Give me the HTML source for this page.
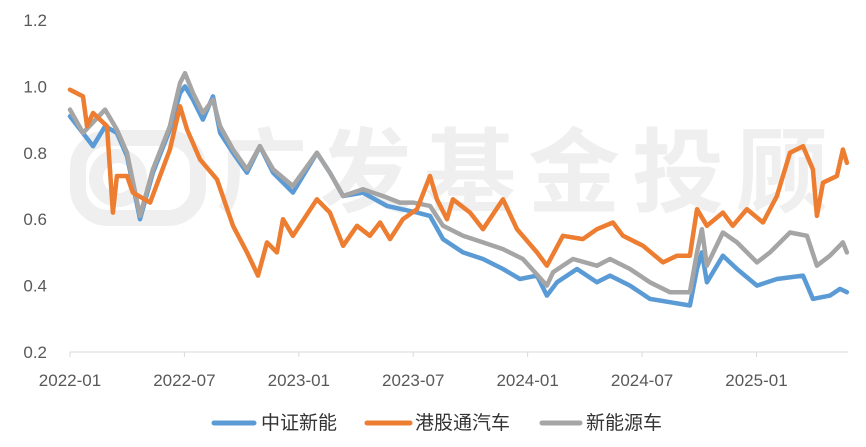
<!DOCTYPE html>
<html><head><meta charset="utf-8">
<style>
html,body{margin:0;padding:0;background:#fff;}
svg{display:block;font-family:"Liberation Sans","Noto Sans CJK SC",sans-serif;}
</style></head>
<body>
<svg id="chart" width="866" height="447" viewBox="0 0 866 447">
  <g fill="#efefef">
    <rect x="78" y="138" width="120" height="80" rx="30" fill="none" stroke="#efefef" stroke-width="16"/>
    <circle cx="118" cy="178" r="22" fill="none" stroke="#efefef" stroke-width="14"/>
    <text x="528" y="205" font-size="92" font-weight="bold" text-anchor="middle" letter-spacing="12" font-family="'Noto Sans CJK SC',sans-serif">广发基金投顾</text>
  </g>
  <g id="yaxis"></g>
  <g id="xaxis"></g>
  <g id="series"></g>
  <g font-size="19" fill="#333333">
    <g>
      <line x1="214" y1="423" x2="254" y2="423" stroke="#5b9bd5" stroke-width="5" stroke-linecap="round"/>
      <text x="261" y="429">中证新能</text>
    </g>
    <g>
      <line x1="367" y1="423" x2="410" y2="423" stroke="#ed7d31" stroke-width="5" stroke-linecap="round"/>
      <text x="415" y="429">港股通汽车</text>
    </g>
    <g>
      <line x1="542" y1="423" x2="580" y2="423" stroke="#a5a5a5" stroke-width="5" stroke-linecap="round"/>
      <text x="586" y="429">新能源车</text>
    </g>
  </g>
</svg>
<script>
const yTicks = [0.2, 0.4, 0.6, 0.8, 1.0, 1.2];
const yTickLabels = ["0.2", "0.4", "0.6", "0.8", "1.0", "1.2"];
const xTicks = [0, 6, 12, 18, 24, 30, 36];
const xTickLabels = ["2022-01", "2022-07", "2023-01", "2023-07", "2024-01", "2024-07", "2025-01"];

const blueT = [0,1.21,1.84,2.46,2.99,3.67,4.35,5.24,5.77,6.03,6.45,6.97,7.50,7.87,8.55,9.28,9.96,10.65,11.69,12.95,13.63,14.32,15.36,16.62,18.20,18.88,19.56,20.61,21.66,22.71,23.60,24.49,25.01,25.54,26.59,27.63,28.32,29.37,30.41,31.46,32.51,32.88,33.14,33.40,34.24,34.98,36.03,37.07,38.44,38.96,39.85,40.38,40.74];
const blueV = [.91,.82,.88,.86,.79,.60,.74,.87,.98,1.0,.96,.90,.97,.86,.80,.74,.82,.74,.68,.80,.74,.67,.68,.64,.62,.61,.54,.50,.48,.45,.42,.43,.37,.41,.45,.41,.43,.40,.36,.35,.34,.45,.50,.41,.49,.45,.40,.42,.43,.36,.37,.39,.38];

const grayT = [0,.68,1.84,2.46,2.99,3.67,4.35,5.24,5.77,6.03,6.45,6.97,7.50,7.87,8.55,9.28,9.96,10.65,11.69,12.95,13.63,14.32,15.36,16.41,17.30,17.99,18.88,19.56,20.61,21.66,22.71,23.75,25.01,25.33,26.38,27.63,28.32,29.37,30.41,31.46,32.51,32.88,33.14,33.40,34.24,34.98,36.03,36.71,37.76,38.65,39.17,39.85,40.53,40.74];
const grayV = [.93,.86,.93,.87,.80,.61,.75,.88,1.01,1.04,.98,.92,.96,.88,.81,.75,.82,.75,.70,.80,.74,.67,.69,.67,.65,.65,.64,.58,.55,.53,.51,.48,.40,.44,.48,.46,.48,.45,.41,.38,.38,.50,.57,.46,.56,.53,.47,.50,.56,.55,.46,.49,.53,.50];

const orangeT = [0,.68,.89,1.21,1.94,2.25,2.46,2.99,3.30,4.20,4.72,5.24,5.77,6.14,6.82,7.71,8.55,9.28,9.86,10.33,10.85,11.17,11.69,12.95,13.63,14.32,15.05,15.73,16.26,16.78,17.46,18.20,18.88,19.24,19.77,20.08,20.98,21.66,22.71,23.44,24.49,25.01,25.85,26.90,27.63,28.47,29.00,30.05,31.10,31.83,32.51,32.88,33.40,34.24,34.76,35.50,36.34,37.07,37.76,38.44,38.96,39.17,39.49,40.22,40.53,40.74];
const orangeV = [.99,.97,.88,.92,.88,.62,.73,.73,.68,.65,.73,.81,.94,.87,.78,.72,.58,.50,.43,.53,.50,.60,.55,.66,.62,.52,.58,.55,.59,.54,.60,.63,.73,.66,.60,.66,.62,.57,.66,.57,.50,.46,.55,.54,.57,.59,.55,.52,.47,.49,.49,.63,.58,.62,.58,.63,.59,.67,.80,.82,.75,.61,.71,.73,.81,.77];

const X0 = 70, X1 = 848, MONTHS_END = 40.8;
const Y0 = 352, Y1 = 20, VMIN = 0.2, VMAX = 1.2;
function xScale(m){ return X0 + (m / MONTHS_END) * (X1 - X0); }
function yScale(v){ return Y0 - (v - VMIN) / (VMAX - VMIN) * (Y0 - Y1); }
const NS = "http://www.w3.org/2000/svg";

const yg = document.getElementById('yaxis');
yTicks.forEach((v, i) => {
  const t = document.createElementNS(NS, 'text');
  
  
  t.setAttribute('x', 47); t.setAttribute('y', yScale(v) + 6);
  t.setAttribute('text-anchor', 'end'); t.setAttribute('font-size', '17'); t.setAttribute('fill', '#595959');
  t.textContent = yTickLabels[i];
  yg.appendChild(t);
});

const xg = document.getElementById('xaxis');
const axisLine = document.createElementNS(NS, 'line');


axisLine.setAttribute('x1', X0); axisLine.setAttribute('x2', X1);
axisLine.setAttribute('y1', Y0); axisLine.setAttribute('y2', Y0);
axisLine.setAttribute('stroke', '#d9d9d9'); axisLine.setAttribute('stroke-width', '1');
xg.appendChild(axisLine);
xTicks.forEach((m, i) => {
  const x = xScale(m);
  const tk = document.createElementNS(NS, 'line');
  
  
  tk.setAttribute('x1', x); tk.setAttribute('x2', x); tk.setAttribute('y1', Y0); tk.setAttribute('y2', Y0 + 5);
  tk.setAttribute('stroke', '#d9d9d9');
  xg.appendChild(tk);
  const t = document.createElementNS(NS, 'text');
  
  
  t.setAttribute('x', x); t.setAttribute('y', 386);
  t.setAttribute('text-anchor', 'middle'); t.setAttribute('font-size', '17'); t.setAttribute('fill', '#595959');
  t.textContent = xTickLabels[i];
  xg.appendChild(t);
});

const sg = document.getElementById('series');
function drawSeries(ts, vs, color, name){
  const d = ts.map((m, i) => (i ? 'L' : 'M') + xScale(m).toFixed(1) + ' ' + yScale(vs[i]).toFixed(1)).join(' ');
  const p = document.createElementNS(NS, 'path');
  
  
  p.setAttribute('d', d);
  p.setAttribute('fill', 'none'); p.setAttribute('stroke', color);
  p.setAttribute('stroke-width', '4.5'); p.setAttribute('stroke-linejoin', 'round'); p.setAttribute('stroke-linecap', 'round');
  sg.appendChild(p);
}
drawSeries(blueT, blueV, '#5b9bd5', 'series-zhongzheng-xinneng');
drawSeries(grayT, grayV, '#a5a5a5', 'series-xinnengyuanche');
drawSeries(orangeT, orangeV, '#ed7d31', 'series-ganggutong-qiche');
</script>
</body></html>
